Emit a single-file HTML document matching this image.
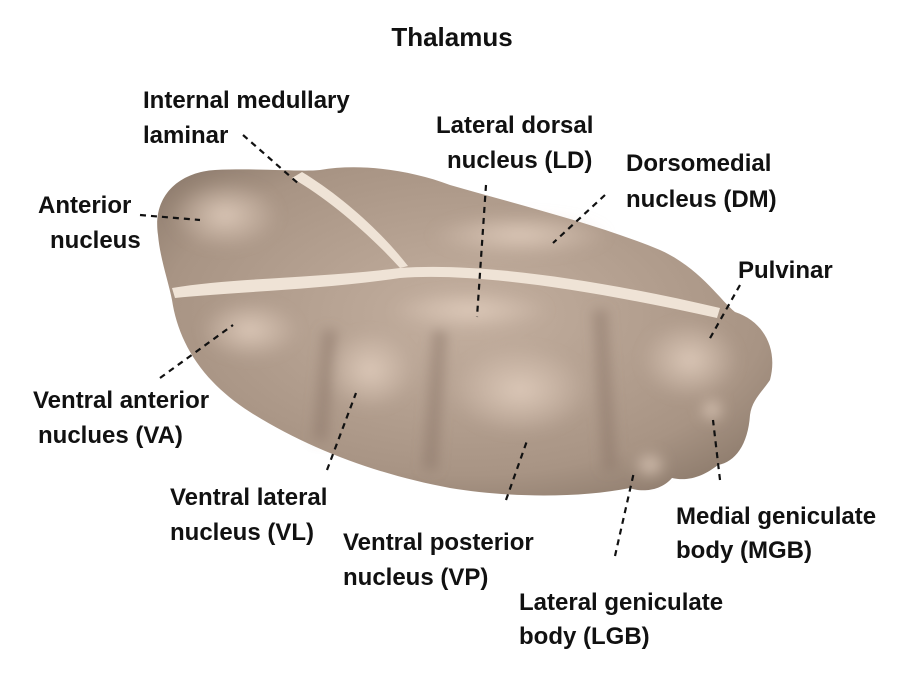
<!DOCTYPE html>
<html><head><meta charset="utf-8"><style>
html,body{margin:0;padding:0;background:#fff}
svg{display:block}
text{font-family:"Liberation Sans Narrow","Liberation Sans",sans-serif;font-weight:bold;fill:#111;font-size:24px}
</style></head><body>
<svg width="900" height="676" viewBox="0 0 900 676">
<defs>
<radialGradient id="g1" cx="0.5" cy="0.45" r="0.65">
<stop offset="0" stop-color="#c4b0a0"/><stop offset="0.75" stop-color="#a89484"/><stop offset="1" stop-color="#8c7a6b"/>
</radialGradient>
<radialGradient id="hl" cx="0.5" cy="0.5" r="0.5">
<stop offset="0" stop-color="#dfcbbb" stop-opacity="0.9"/><stop offset="1" stop-color="#dfcbbb" stop-opacity="0"/>
</radialGradient>
<filter id="bl"><feGaussianBlur stdDeviation="6"/></filter>
</defs>
<text x="452" y="46" text-anchor="middle" style="font-size:26px">Thalamus</text>
<path d="M158,235 C152,195 180,172 215,170 C260,168 300,172 320,170 C360,163 410,170 450,185 C520,205 600,225 660,250 C700,268 720,300 735,312 C765,322 778,350 770,380 C762,392 752,400 750,415 C748,445 735,462 718,465 C705,475 690,482 672,478 C660,492 640,492 630,488 C580,498 510,498 450,488 C380,475 310,450 250,412 C200,380 178,340 172,300 C168,280 160,258 158,235 Z" fill="url(#g1)"/>
<g filter="url(#bl)">
<ellipse cx="225" cy="215" rx="55" ry="35" fill="url(#hl)"/>
<ellipse cx="520" cy="235" rx="90" ry="22" fill="url(#hl)"/>
<ellipse cx="250" cy="330" rx="50" ry="30" fill="url(#hl)"/>
<ellipse cx="370" cy="370" rx="45" ry="40" fill="url(#hl)"/>
<ellipse cx="520" cy="390" rx="70" ry="45" fill="url(#hl)"/>
<ellipse cx="690" cy="360" rx="50" ry="40" fill="url(#hl)"/>
<ellipse cx="470" cy="310" rx="80" ry="20" fill="url(#hl)"/>
<ellipse cx="650" cy="465" rx="18" ry="15" fill="url(#hl)"/>
<ellipse cx="712" cy="410" rx="14" ry="14" fill="url(#hl)"/>
<path d="M330,330 L320,440 M440,330 L430,470 M600,310 L610,470" stroke="#8a7566" stroke-width="14" opacity="0.5"/>
</g>
<path d="M172,288 C230,278 320,278 400,268 C480,262 600,280 720,308 L717,318 C600,292 480,272 400,278 C320,290 230,292 175,298 Z" fill="#efe3d6"/>
<path d="M292,178 C330,200 370,235 400,268 L408,266 C380,230 340,195 302,172 Z" fill="#efe3d6"/>
<g stroke="#111" stroke-width="2.2" stroke-dasharray="6,5" fill="none">
<line x1="243" y1="135" x2="300" y2="185"/>
<line x1="486" y1="185" x2="477" y2="317"/>
<line x1="605" y1="195" x2="553" y2="243"/>
<line x1="140" y1="215" x2="200" y2="220"/>
<line x1="740" y1="285" x2="709" y2="340"/>
<line x1="160" y1="378" x2="233" y2="325"/>
<line x1="327" y1="470" x2="356" y2="393"/>
<line x1="506" y1="500" x2="528" y2="438"/>
<line x1="720" y1="480" x2="713" y2="420"/>
<line x1="615" y1="556" x2="634" y2="472"/>
</g>
<text x="143" y="108">Internal medullary</text>
<text x="143" y="143">laminar</text>
<text x="436" y="133">Lateral dorsal</text>
<text x="447" y="168">nucleus (LD)</text>
<text x="626" y="171">Dorsomedial</text>
<text x="626" y="207">nucleus (DM)</text>
<text x="38" y="213">Anterior</text>
<text x="50" y="248">nucleus</text>
<text x="738" y="278">Pulvinar</text>
<text x="33" y="408">Ventral anterior</text>
<text x="38" y="443">nuclues (VA)</text>
<text x="170" y="505">Ventral lateral</text>
<text x="170" y="540">nucleus (VL)</text>
<text x="343" y="550">Ventral posterior</text>
<text x="343" y="585">nucleus (VP)</text>
<text x="676" y="524">Medial geniculate</text>
<text x="676" y="558">body (MGB)</text>
<text x="519" y="610">Lateral geniculate</text>
<text x="519" y="644">body (LGB)</text>
</svg>
</body></html>
